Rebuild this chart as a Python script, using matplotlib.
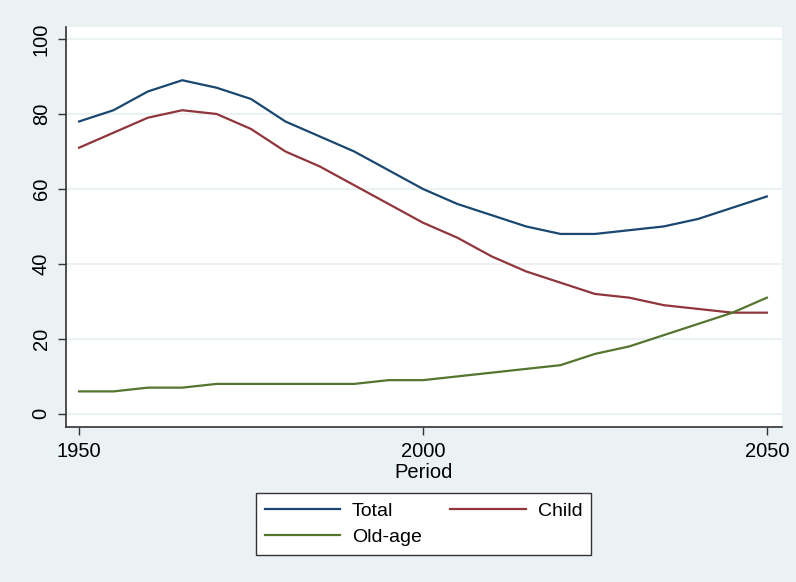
import numpy as np
import matplotlib.pyplot as plt

plt.rcParams['font.family'] = ['Liberation Sans', 'DejaVu Sans']

# dependency ratios by period
period = [1950, 1955, 1960, 1965, 1970, 1975, 1980, 1985, 1990, 1995, 2000,
          2005, 2010, 2015, 2020, 2025, 2030, 2035, 2040, 2045, 2050]
total = [78, 81, 86, 89, 87, 84, 78, 74, 70, 65, 60,
         56, 53, 50, 48, 48, 49, 50, 52, 55, 58]
child = [71, 75, 79, 81, 80, 76, 70, 66, 61, 56, 51,
         47, 42, 38, 35, 32, 31, 29, 28, 27, 27]
oldage = [6, 6, 7, 7, 8, 8, 8, 8, 8, 9, 9,
          10, 11, 12, 13, 16, 18, 21, 24, 27, 31]

bg = '#eaf2f3'
fig = plt.figure(figsize=(7.96, 5.82), dpi=100, facecolor=bg)
ax = fig.add_axes([0.0829, 0.2663, 0.8995, 0.6873])
ax.set_facecolor('white')

l1, = ax.plot(period, total, color='#1a476f', lw=1.6, label='Total')
l2, = ax.plot(period, child, color='#90353b', lw=1.6, label='Child')
l3, = ax.plot(period, oldage, color='#55752f', lw=1.6, label='Old-age')

ax.set_xlim(1948.1, 2052.2)
ax.set_ylim(-3.5, 103.2)
ax.set_xticks([1950, 2000, 2050])
ax.set_yticks([0, 20, 40, 60, 80, 100])
ax.set_yticklabels(['0', '20', '40', '60', '80', '100'], rotation=90, va='center')
ax.grid(axis='y', color=bg, lw=1.5)
ax.set_axisbelow(True)

for s in ['top', 'right']:
    ax.spines[s].set_visible(False)
for s in ['left', 'bottom']:
    ax.spines[s].set_color('#333333')
    ax.spines[s].set_linewidth(1.2)
ax.tick_params(direction='out', length=6, width=1, colors='#333333',
               labelcolor='black', labelsize=14.5, pad=5)

ax.set_xlabel('Period', fontsize=14.5, labelpad=1)

leg = fig.legend([l1, l3, l2], ['Total', 'Old-age', 'Child'], ncol=2,
                 loc='center', bbox_to_anchor=(0.532, 0.0997),
                 fontsize=14, frameon=True, fancybox=False, framealpha=1,
                 facecolor='white', edgecolor='#333333',
                 handlelength=3.9, handletextpad=0.6, columnspacing=1.45,
                 borderpad=0.45, labelspacing=0.45, borderaxespad=0)
leg.get_frame().set_linewidth(1.0)

fig.savefig('out.png', dpi=100, facecolor=bg)
